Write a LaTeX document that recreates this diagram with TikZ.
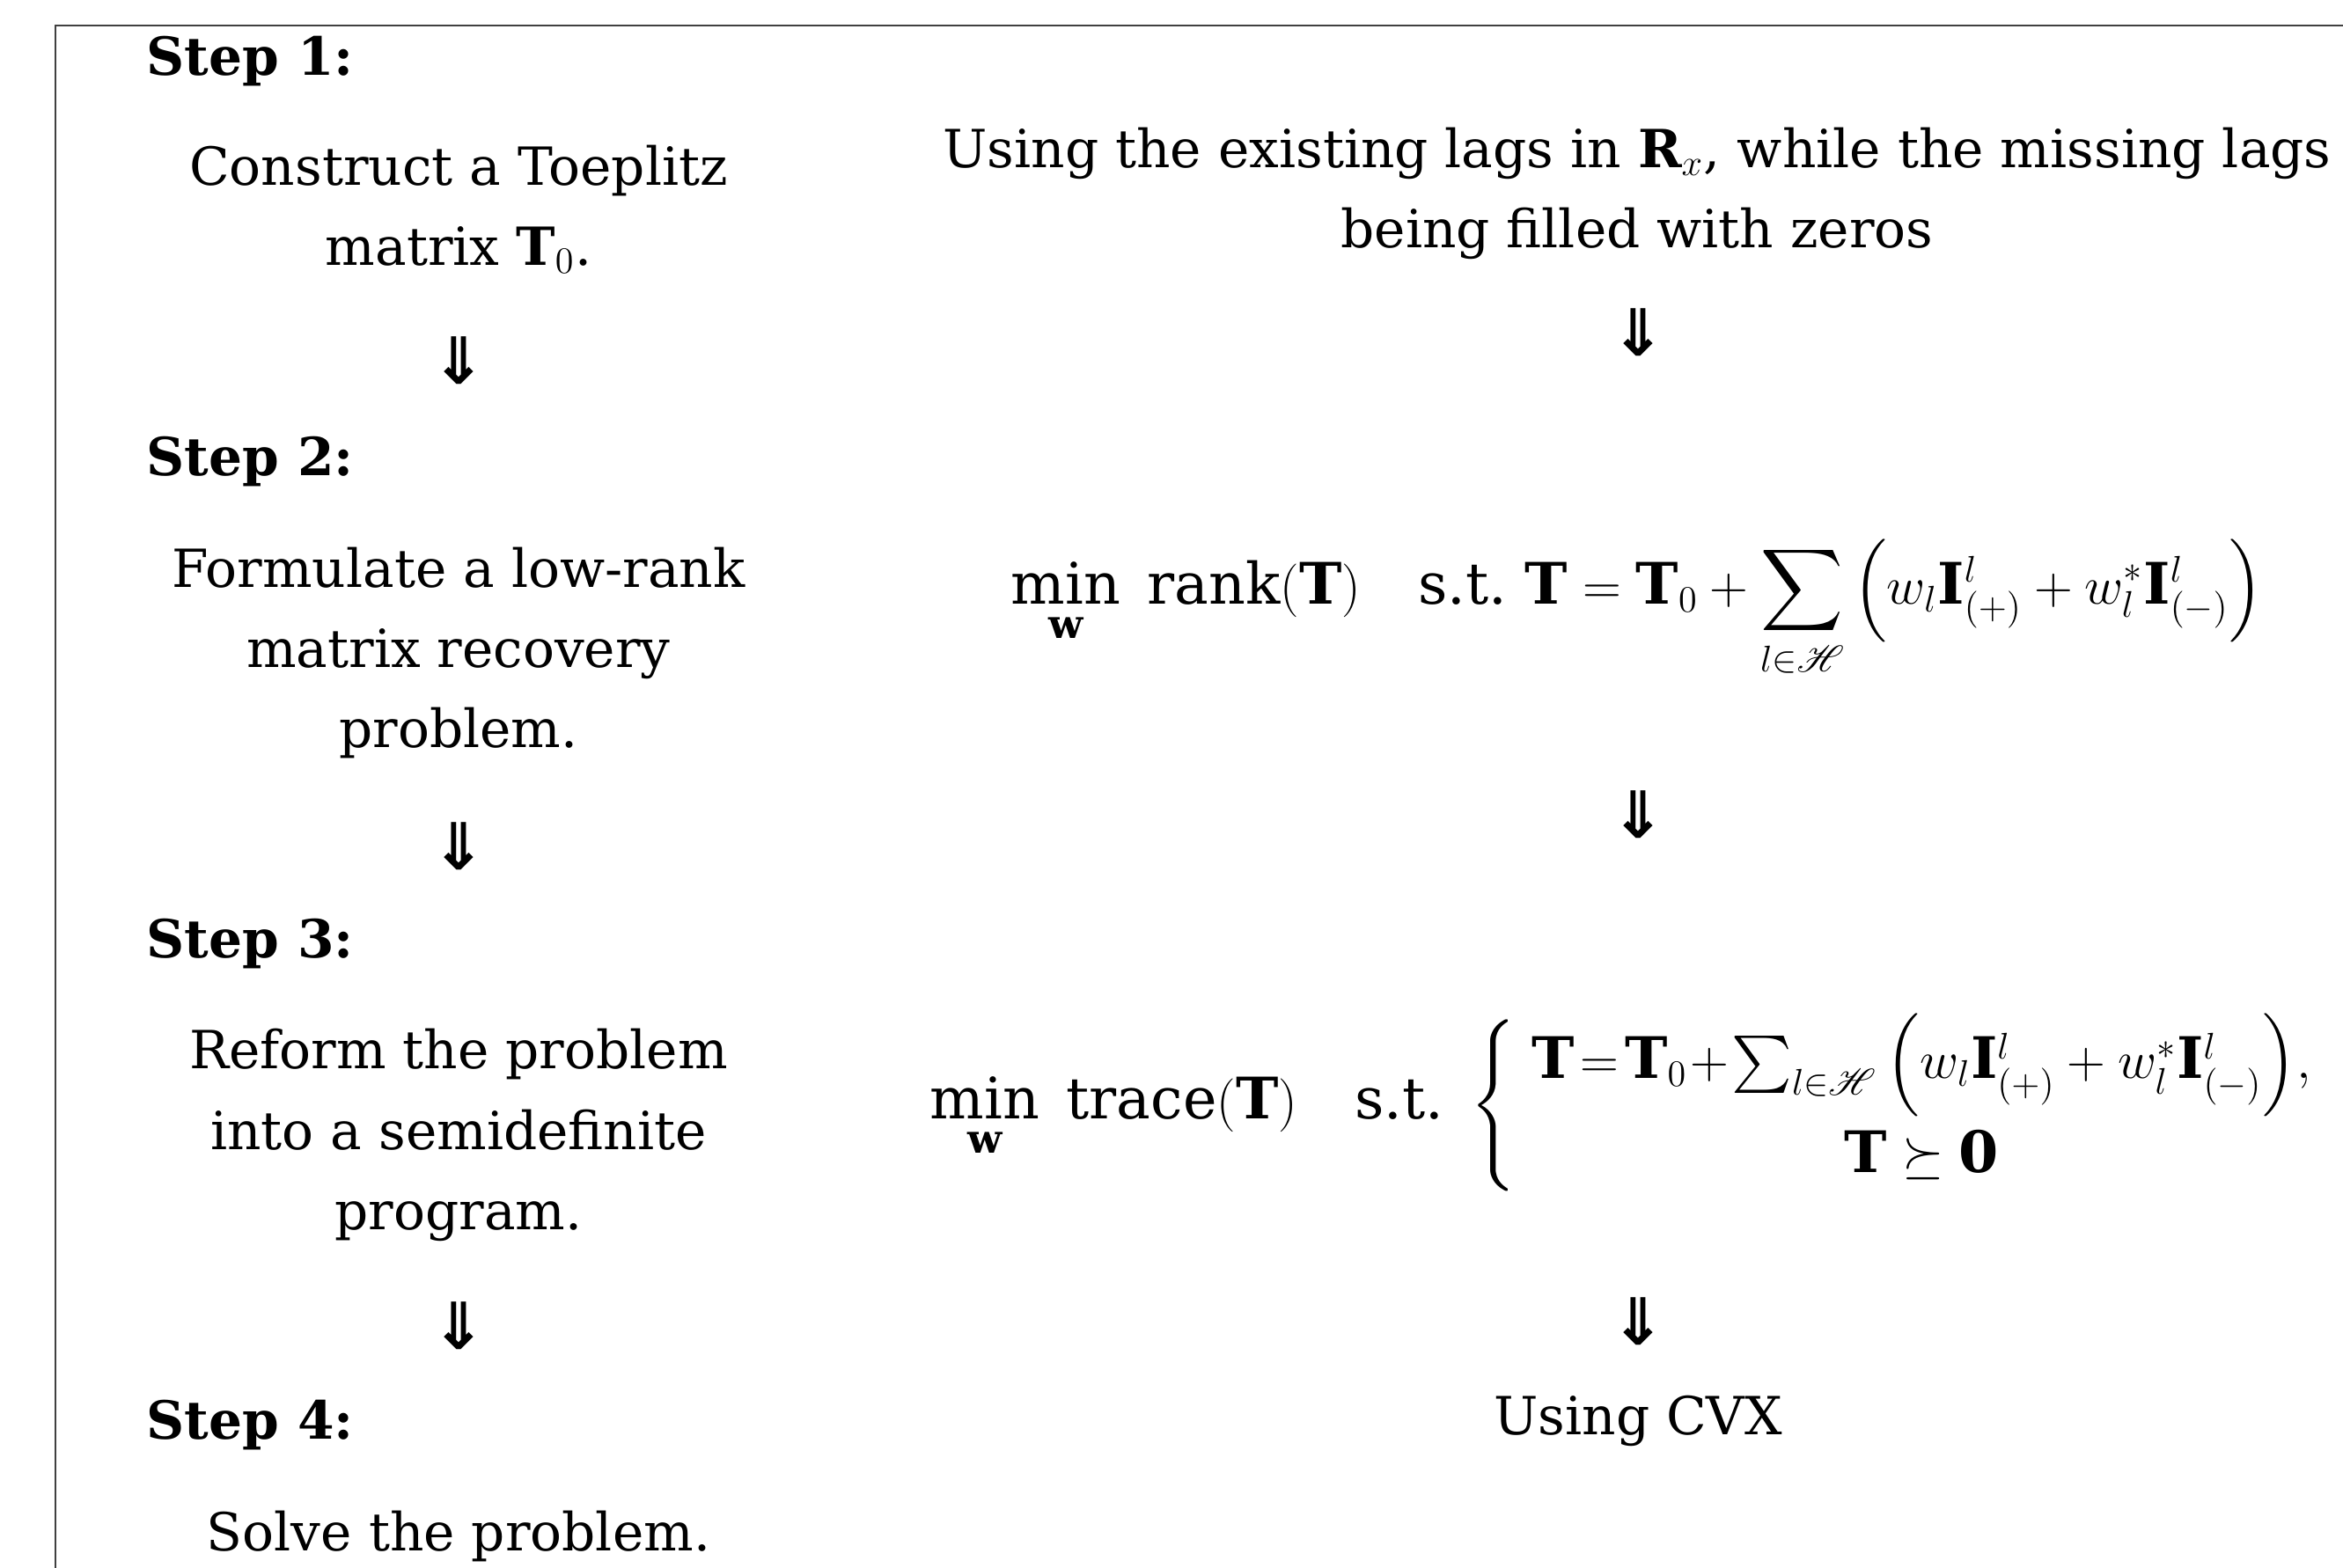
\documentclass[tikz,border=0pt]{standalone}
\usepackage{amsmath, amssymb, mathrsfs}
\usepackage{fontspec}
\setmainfont{DejaVu Serif}
\newfontfamily\arrowfont{DejaVu Sans}
\usepackage{tikz}

\begin{document}
\begin{tikzpicture}[
    txt/.style={font=\fontsize{17}{26}\selectfont, inner sep=0pt, align=center},
    eqn/.style={txt, font=\fontsize{18.5}{26}\selectfont},
    steplabel/.style={txt, font=\fontsize{17}{26}\selectfont\bfseries, anchor=west},
    downarr/.style={inner sep=0pt, font=\fontsize{21}{24}\selectfont\arrowfont\bfseries}]
    \useasboundingbox (0,0) rectangle (26.62,-17.81);
    \clip (0,0) rectangle (26.62,-17.81);

    % frame (runs off the page to the right and below)
    \draw[black!75, line width=0.6pt] (0.63,-0.29) rectangle (28,-19);

    % left column: the steps
    \node[steplabel] (s1) at (1.66,-0.70) {Step 1:};
    \node[txt] (t1) at (5.21,-2.38) {Construct a Toeplitz\\ matrix $\mathbf{T}_0$.};
    \node[downarr] (a1) at (5.21,-4.10) {⇓};
    \node[steplabel] (s2) at (1.66,-5.25) {Step 2:};
    \node[txt] (t2) at (5.21,-7.42) {Formulate a low-rank\\ matrix recovery\\ problem.};
    \node[downarr] (a2) at (5.21,-9.62) {⇓};
    \node[steplabel] (s3) at (1.66,-10.73) {Step 3:};
    \node[txt] (t3) at (5.21,-12.90) {Reform the problem\\ into a semidefinite\\ program.};
    \node[downarr] (a3) at (5.21,-15.07) {⇓};
    \node[steplabel] (s4) at (1.66,-16.20) {Step 4:};
    \node[txt] (t4) at (5.21,-17.46) {Solve the problem.};

    % right column: what each step does
    \node[txt] (r1) at (18.60,-2.20) {Using the existing lags in $\mathbf{R}_x$, while the missing lags\\ being filled with zeros};
    \node[downarr] (b1) at (18.61,-3.78) {⇓};
    \node[eqn] (r2) at (18.60,-6.92) {$\displaystyle \min_{\mathbf{w}}\ \operatorname{rank}(\mathbf{T})\quad \text{s.t.}\ \mathbf{T}=\mathbf{T}_0+\sum_{l\in\mathscr{H}}\Big(w_l\mathbf{I}^l_{(+)}+w_l^{*}\mathbf{I}^l_{(-)}\Big)$};
    \node[downarr] (b2) at (18.61,-9.26) {⇓};
    \node[eqn] (r3) at (18.52,-12.56) {$\displaystyle \min_{\mathbf{w}}\ \operatorname{trace}(\mathbf{T})\quad \text{s.t.}\ \left\{\begin{array}{c}
        \mathbf{T}\!=\!\mathbf{T}_0\!+\!\sum_{l\in\mathscr{H}}\Big(w_l\mathbf{I}^l_{(+)}+w_l^{*}\mathbf{I}^l_{(-)}\Big),\\
        \mathbf{T}\succeq\mathbf{0}
        \end{array}\right.$};
    \node[downarr] (b3) at (18.61,-15.02) {⇓};
    \node[txt] (r4) at (18.61,-16.15) {Using CVX};
\end{tikzpicture}
\end{document}
